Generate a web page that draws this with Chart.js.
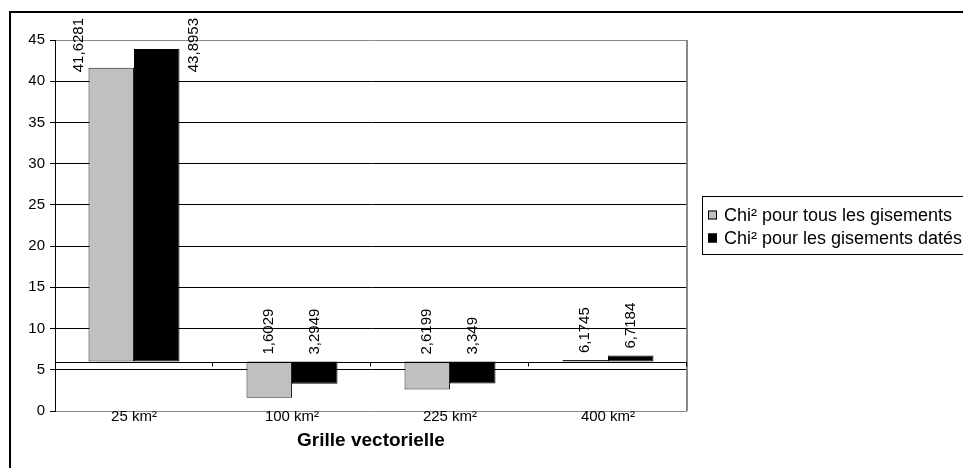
<!DOCTYPE html>
<html>
<head>
<meta charset="utf-8">
<script src="https://cdn.jsdelivr.net/npm/chart.js@4.4.1/dist/chart.umd.min.js"></script>
<style>
  html, body { margin: 0; padding: 0; background: #fff; overflow: hidden; }
  #wrap { width: 963px; height: 468px; }
</style>
</head>
<body>
<div id="wrap"><canvas id="chiChart" width="963" height="468"></canvas></div>
<script>
// data
var categories = ['25 km²', '100 km²', '225 km²', '400 km²'];
var seriesNames = ['Chi² pour tous les gisements', 'Chi² pour les gisements datés'];
var chiAll = [41.6281, 1.6029, 2.6199, 6.1745];
var chiDated = [43.8953, 3.2949, 3.349, 6.7184];
var crossAt = 6; // the category axis crosses the value axis at 6
var yTicks = [0, 5, 10, 15, 20, 25, 30, 35, 40, 45];
var seriesColors = ['#c0c0c0', '#000000'];

var FONT = '"Liberation Sans", Arial, sans-serif';
Chart.defaults.font.family = FONT;
Chart.defaults.color = '#000';

// frame, baseline at the crossing value, plot border
var framePlugin = {
  id: 'frame',
  beforeDraw: function(chart) {
    var ctx = chart.ctx;
    ctx.save();
    ctx.fillStyle = '#fff';
    ctx.fillRect(0, 0, chart.width, chart.height);
    ctx.strokeStyle = '#000';
    ctx.lineWidth = 2;
    ctx.strokeRect(10, 12, 2000, 2000);
    ctx.restore();
  },
  afterDatasetsDraw: function(chart) {
    var ctx = chart.ctx, a = chart.chartArea;
    var y6 = Math.round(chart.scales.y.getPixelForValue(crossAt)) + 0.5;
    ctx.save();
    // right border of the plot area
    ctx.strokeStyle = '#888';
    ctx.lineWidth = 2;
    ctx.beginPath();
    ctx.moveTo(a.right, a.top);
    ctx.lineTo(a.right, a.bottom);
    ctx.stroke();
    // category axis line
    ctx.strokeStyle = '#000';
    ctx.lineWidth = 1;
    ctx.beginPath();
    ctx.moveTo(a.left, y6);
    ctx.lineTo(a.right, y6);
    var step = (a.right - a.left) / categories.length;
    for (var i = 1; i <= categories.length; i++) {
      var x = Math.round(a.left + i * step) - 0.5;
      ctx.moveTo(x, y6);
      ctx.lineTo(x, y6 + 4);
    }
    ctx.stroke();
    ctx.restore();
  }
};

// rotated value labels
var valueLabels = {
  id: 'valueLabels',
  afterDatasetsDraw: function(chart) {
    var ctx = chart.ctx, a = chart.chartArea;
    ctx.save();
    ctx.font = '15px ' + FONT;
    ctx.fillStyle = '#000';
    ctx.textAlign = 'left';
    ctx.textBaseline = 'middle';
    chart.data.datasets.forEach(function(ds, di) {
      var meta = chart.getDatasetMeta(di);
      meta.data.forEach(function(bar, i) {
        var txt = String(ds.data[i][1]).replace('.', ',');
        var w = ctx.measureText(txt).width;
        var top = Math.min(bar.y, bar.base);
        var x = bar.x, y = top - 7;
        if (y - w < a.top - 25) {
          // no room above: put it beside the bar
          x = di === 0 ? bar.x - bar.width / 2 - 10 : bar.x + bar.width / 2 + 14;
          y = a.top - 22 + w;
        }
        ctx.save();
        ctx.translate(x, y);
        ctx.rotate(-Math.PI / 2);
        ctx.fillText(txt, 0, 0);
        ctx.restore();
      });
    });
    ctx.restore();
  }
};

// legend box on the right, cut by the window edge
var boxLegend = {
  id: 'boxLegend',
  afterDraw: function(chart) {
    var ctx = chart.ctx;
    ctx.save();
    ctx.strokeStyle = '#000';
    ctx.lineWidth = 1;
    ctx.strokeRect(702.5, 196.5, 400, 58);
    ctx.font = '18px ' + FONT;
    ctx.textAlign = 'left';
    ctx.textBaseline = 'middle';
    var rows = [215, 238];
    seriesNames.forEach(function(name, i) {
      ctx.fillStyle = seriesColors[i];
      ctx.fillRect(708, rows[i] - 4.5, 9, 9);
      ctx.strokeStyle = '#000';
      ctx.strokeRect(708.5, rows[i] - 4, 8, 8);
      ctx.fillStyle = '#000';
      ctx.fillText(name, 724, rows[i] + 1);
    });
    ctx.restore();
  }
};

new Chart(document.getElementById('chiChart').getContext('2d'), {
  type: 'bar',
  data: {
    labels: categories,
    datasets: [
      {
        label: seriesNames[0],
        data: chiAll.map(function(v) { return [crossAt, v]; }),
        backgroundColor: seriesColors[0],
        borderColor: '#222',
        borderWidth: 1,
        borderSkipped: false
      },
      {
        label: seriesNames[1],
        data: chiDated.map(function(v) { return [crossAt, v]; }),
        backgroundColor: seriesColors[1],
        borderColor: '#000',
        borderWidth: 1,
        borderSkipped: false
      }
    ]
  },
  options: {
    responsive: false,
    animation: false,
    devicePixelRatio: 1,
    layout: { padding: { left: 0, right: 276, top: 40, bottom: 0 } },
    datasets: { bar: { barPercentage: 1, categoryPercentage: 0.576 } },
    plugins: { legend: { display: false }, tooltip: { enabled: false } },
    scales: {
      x: {
        grid: { display: false, drawTicks: false },
        border: { display: false },
        ticks: { font: { size: 15 }, color: '#000', padding: -3 },
        title: {
          display: true,
          text: 'Grille vectorielle',
          font: { size: 19, weight: 'bold' },
          color: '#000',
          padding: { top: 0, bottom: 16 }
        },
        afterFit: function(scale) { scale.height = 57; }
      },
      y: {
        min: yTicks[0],
        max: yTicks[yTicks.length - 1],
        afterBuildTicks: function(scale) {
          scale.ticks = yTicks.map(function(v) { return { value: v }; });
        },
        grid: {
          color: function(c) {
            var v = c.tick ? c.tick.value : null;
            return (v === yTicks[0] || v === yTicks[yTicks.length - 1]) ? '#888' : '#000';
          },
          tickColor: '#000',
          tickLength: 5,
          lineWidth: 1
        },
        border: { display: true, color: '#000', width: 1 },
        ticks: { font: { size: 15 }, color: '#000', padding: 5 },
        afterFit: function(scale) { scale.width = 55; }
      }
    }
  },
  plugins: [framePlugin, valueLabels, boxLegend]
});
</script>
</body>
</html>
